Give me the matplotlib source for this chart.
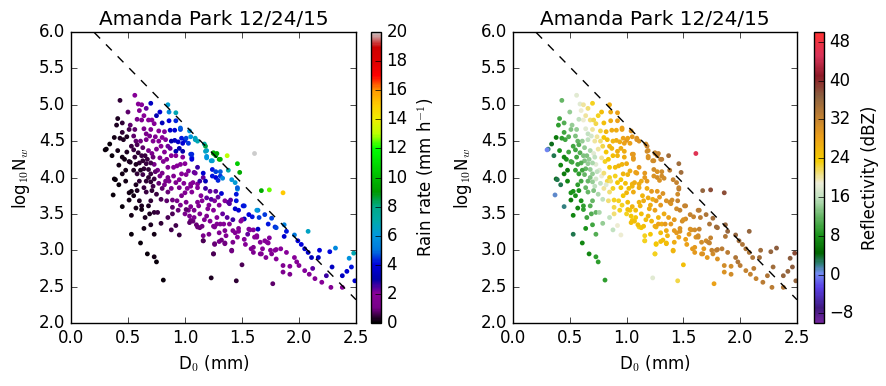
import numpy as np
import matplotlib
matplotlib.use('Agg')
import matplotlib.pyplot as plt
from matplotlib.colors import LinearSegmentedColormap

plt.style.use('classic')

title = 'Amanda Park 12/24/15'

# median drop diameter D0 (mm)
d0 = [0.43, 0.56, 0.59, 0.62, 0.60, 0.70, 0.85, 0.86, 0.92, 0.41,
      0.45, 0.40, 0.52, 0.62, 0.68, 0.71, 0.75, 0.73, 0.86, 0.92,
      0.51, 0.56, 0.64, 0.70, 0.77, 0.82, 0.87, 0.91, 0.96, 1.04,
      1.09, 1.11, 1.17, 1.19, 1.25, 1.27, 1.30, 1.19, 1.24, 0.49,
      0.46, 0.43, 0.34, 0.31, 0.41, 0.49, 0.53, 0.57, 0.61, 0.66,
      0.72, 0.77, 0.79, 0.85, 0.91, 0.94, 1.00, 0.98, 0.92, 0.92,
      1.05, 1.06, 1.00, 0.59, 0.62, 0.68, 0.71, 0.75, 0.42, 0.51,
      0.63, 0.66, 0.68, 0.73, 0.78, 0.81, 0.84, 0.85, 0.90, 0.93,
      0.97, 1.03, 1.08, 1.11, 1.16, 1.24, 1.27, 1.31, 0.38, 0.63,
      0.68, 0.73, 0.70, 0.78, 0.85, 0.92, 1.05, 1.11, 0.37, 0.51,
      0.53, 0.51, 0.60, 0.62, 0.62, 0.68, 0.70, 0.75, 0.69, 0.73,
      0.76, 0.53, 0.79, 0.84, 0.89, 0.89, 0.89, 0.94, 0.79, 0.53,
      0.73, 0.61, 0.67, 0.73, 0.75, 0.81, 0.92, 0.95, 1.00, 1.06,
      1.01, 1.03, 1.08, 1.05, 1.11, 1.16, 1.25, 1.23, 1.26, 1.30,
      1.11, 1.15, 1.20, 1.25, 1.26, 1.29, 1.26, 1.31, 1.67, 1.74,
      1.86, 1.46, 1.45, 1.38, 1.44, 1.47, 1.52, 1.64, 1.59, 1.65,
      1.70, 1.76, 1.52, 1.49, 1.73, 1.79, 1.87, 1.89, 1.96, 2.08,
      1.87, 1.99, 2.02, 2.05, 2.08, 2.11, 2.17, 2.18, 2.27, 2.32,
      2.44, 2.48, 2.46, 2.42, 2.38, 2.29, 2.49, 1.35, 1.42, 1.47,
      1.57, 1.61, 1.63, 1.70, 1.73, 1.79, 1.84, 1.89, 1.96, 1.98,
      2.00, 1.86, 1.86, 1.92, 2.09, 2.14, 2.20, 2.28, 2.38, 1.60,
      1.66, 1.76, 1.41, 1.50, 1.77, 1.45, 1.35, 1.01, 1.05, 1.12,
      1.21, 1.30, 1.39, 1.51, 1.56, 1.63, 1.80, 1.04, 1.07, 1.13,
      1.10, 1.15, 1.19, 1.25, 1.28, 1.34, 1.39, 1.44, 1.47, 1.50,
      1.56, 1.60, 1.64, 1.63, 1.66, 1.72, 1.74, 1.80, 1.75, 1.67,
      1.60, 1.58, 1.16, 1.26, 1.32, 1.35, 1.42, 1.41, 1.25, 0.96,
      0.97, 1.01, 1.05, 1.09, 1.03, 1.18, 1.18, 1.19, 1.25, 1.28,
      1.31, 1.37, 1.23, 1.46, 1.48, 1.61, 1.38, 1.31, 1.27, 1.16,
      1.24, 1.29, 1.33, 1.41, 1.44, 1.46, 1.45, 1.32, 1.06, 1.06,
      0.98, 0.96, 1.01, 1.09, 1.07, 1.05, 1.11, 1.18, 1.22, 1.27,
      1.35, 1.40, 0.52, 0.39, 0.55, 0.58, 0.60, 0.57, 0.64, 0.66,
      0.55, 0.58, 0.48, 0.45, 0.47, 0.55, 0.58, 0.63, 0.66, 0.69,
      0.74, 0.80, 0.83, 0.87, 0.82, 0.88, 0.76, 0.80, 0.83, 0.88,
      0.95, 0.97, 0.93, 0.80, 0.72, 0.85, 0.30,
      0.65, 0.67, 0.70, 0.72, 0.60, 0.64, 0.70, 0.74, 0.66, 0.71,
      0.77, 0.82, 0.86, 0.90, 0.95, 0.99, 1.02, 0.96, 1.00, 1.04,
      1.08, 1.13, 1.17, 1.22, 1.14, 1.19, 1.23, 1.18, 1.13, 1.16,
      1.21, 1.30, 1.36, 1.28, 1.33, 1.37, 1.42, 1.46, 1.52, 1.55,
      1.53, 1.68, 1.71, 1.80, 1.92, 2.05, 2.12, 2.24, 0.98, 0.95,
      0.88, 0.80, 0.78, 0.66, 0.64, 0.58, 0.50, 0.55, 0.45, 0.38,
      0.36, 0.45, 0.56, 0.57, 0.61, 0.48, 0.42, 0.45, 0.57, 0.65,
      0.70, 0.64, 0.85, 0.88]

# log10 Nw
log_nw = [5.06, 5.13, 5.01, 5.00, 4.92, 5.02, 5.00, 4.90, 4.89, 4.81,
          4.75, 4.72, 4.72, 4.79, 4.79, 4.79, 4.85, 4.74, 4.78, 4.78,
          4.66, 4.66, 4.67, 4.66, 4.64, 4.63, 4.65, 4.65, 4.66, 4.64,
          4.52, 4.50, 4.46, 4.37, 4.33, 4.30, 4.25, 4.27, 4.23, 4.56,
          4.52, 4.54, 4.46, 4.39, 4.37, 4.35, 4.43, 4.50, 4.50, 4.52,
          4.50, 4.50, 4.43, 4.43, 4.51, 4.49, 4.51, 4.47, 4.36, 4.30,
          4.32, 4.27, 4.19, 4.34, 4.30, 4.37, 4.33, 4.39, 4.17, 4.22,
          4.23, 4.19, 4.11, 4.18, 4.27, 4.22, 4.25, 4.14, 4.14, 4.16,
          4.05, 4.09, 4.07, 4.14, 4.00, 4.11, 4.00, 4.02, 3.98, 4.04,
          4.00, 3.98, 3.94, 4.02, 4.00, 3.93, 3.91, 3.91, 3.76, 3.79,
          3.81, 3.69, 3.68, 3.61, 3.56, 3.61, 3.68, 3.77, 3.50, 3.52,
          3.52, 3.48, 3.70, 3.68, 3.69, 3.59, 3.50, 3.55, 3.37, 3.22,
          3.22, 3.10, 2.95, 2.91, 2.84, 2.59, 3.34, 3.21, 3.79, 3.80,
          3.66, 3.55, 3.55, 3.41, 3.32, 3.13, 2.95, 2.62, 3.08, 3.12,
          3.66, 3.68, 3.57, 3.55, 3.68, 3.73, 3.32, 3.36, 3.82, 3.83,
          3.79, 3.84, 3.68, 3.66, 3.57, 3.55, 3.61, 3.55, 3.46, 3.45,
          3.49, 3.44, 3.43, 3.40, 3.36, 3.32, 3.35, 3.26, 3.21, 3.26,
          3.19, 3.13, 3.08, 3.02, 2.97, 2.90, 2.90, 3.00, 2.98, 3.03,
          2.89, 2.96, 2.77, 2.71, 2.65, 2.77, 2.58, 3.27, 3.27, 3.30,
          3.28, 3.18, 3.18, 3.13, 3.10, 3.00, 3.02, 2.97, 2.90, 2.84,
          2.79, 2.79, 2.70, 2.67, 2.67, 2.61, 2.56, 2.49, 2.49, 3.04,
          2.95, 2.95, 3.00, 2.80, 2.54, 2.58, 3.09, 3.56, 3.60, 3.61,
          3.62, 3.62, 3.64, 3.61, 3.49, 3.55, 3.31, 3.38, 3.40, 3.31,
          3.35, 3.33, 3.47, 3.33, 3.36, 3.36, 3.36, 3.24, 3.26, 3.42,
          3.29, 3.28, 3.29, 3.20, 3.11, 3.11, 3.17, 3.01, 3.00, 2.95,
          2.97, 3.02, 3.13, 3.09, 3.14, 3.10, 3.11, 2.99, 2.95, 4.68,
          4.54, 4.54, 4.56, 4.54, 4.47, 4.43, 4.36, 4.29, 4.34, 4.33,
          4.25, 4.30, 4.23, 4.19, 4.07, 4.33, 4.10, 4.08, 4.08, 4.06,
          4.02, 3.96, 3.99, 3.97, 3.93, 3.86, 3.77, 3.78, 4.32, 4.25,
          4.28, 4.18, 4.04, 4.06, 3.93, 3.88, 3.86, 3.95, 3.81, 3.81,
          3.68, 3.69, 4.21, 3.97, 4.10, 4.05, 3.95, 3.90, 3.86, 3.80,
          3.75, 3.82, 3.95, 4.05, 4.25, 4.38, 4.45, 4.41, 4.60, 4.57,
          4.56, 4.55, 4.52, 4.40, 4.35, 4.30, 4.10, 4.06, 3.95, 3.85,
          3.86, 3.75, 3.68, 3.85, 3.88, 3.80, 4.38,
          4.30, 4.25, 4.20, 4.28, 4.20, 4.12, 4.05, 4.08, 3.95, 3.82,
          3.92, 3.90, 3.95, 4.02, 3.97, 3.92, 3.85, 3.62, 3.50, 3.47,
          3.45, 3.50, 3.42, 3.40, 3.75, 3.72, 3.70, 3.85, 3.95, 3.20,
          3.22, 3.24, 3.20, 3.45, 3.50, 3.45, 3.42, 3.18, 3.15, 3.22,
          3.08, 3.02, 2.90, 2.88, 2.78, 2.72, 2.75, 2.65, 4.36, 4.40,
          4.50, 4.75, 4.90, 4.95, 4.85, 4.80, 4.90, 4.57, 4.62, 4.55,
          4.30, 4.28, 4.28, 4.18, 4.10, 4.10, 3.90, 3.60, 3.58, 3.45,
          3.35, 3.30, 3.45, 3.28]

# rain rate (mm/h)
rain_rate = [0.4, 1.8, 1.8, 1.9, 1.7, 3.5, 6.3, 5.5, 6.8, 0.3,
             0.4, 0.3, 0.8, 1.6, 1.9, 2.0, 3.2, 1.9, 4.0, 4.3,
             0.6, 0.8, 1.4, 1.7, 2.0, 2.1, 3.6, 3.8, 4.5, 6.0,
             6.5, 6.8, 7.2, 6.5, 9.0, 8.8, 9.5, 6.0, 6.3, 0.3,
             0.3, 0.3, 0.1, 0.1, 0.2, 0.3, 0.5, 0.8, 1.0, 1.3,
             1.6, 1.8, 1.8, 2.2, 3.5, 3.6, 4.2, 3.8, 3.2, 2.0,
             4.5, 4.3, 2.0, 0.4, 0.5, 1.1, 1.3, 1.5, 0.2, 0.3,
             0.4, 0.5, 0.4, 1.1, 1.5, 1.6, 1.8, 1.6, 1.8, 2.0,
             1.8, 2.1, 2.3, 2.6, 2.3, 4.2, 4.0, 4.5, 0.1, 0.6,
             0.4, 0.5, 0.4, 1.1, 1.3, 1.4, 1.8, 2.0, 0.1, 0.2,
             0.2, 0.2, 0.3, 0.3, 0.2, 0.3, 0.4, 0.5, 0.3, 0.4,
             0.5, 0.2, 0.7, 0.8, 1.0, 0.8, 0.7, 0.9, 0.4, 0.1,
             0.2, 0.1, 0.1, 0.2, 0.1, 0.1, 0.6, 0.5, 1.6, 1.8,
             1.4, 1.3, 1.4, 1.0, 0.9, 0.7, 0.7, 0.3, 1.0, 1.3,
             1.7, 1.8, 1.8, 1.9, 2.1, 2.3, 1.4, 1.6, 9.5, 12.5,
             15.0, 5.5, 4.2, 2.4, 3.7, 3.8, 4.3, 5.2, 4.2, 4.5,
             4.5, 4.6, 3.4, 2.0, 4.2, 4.3, 5.3, 4.2, 5.0, 6.5,
             3.7, 4.0, 4.0, 3.8, 3.6, 3.3, 3.5, 4.0, 4.1, 5.5,
             5.8, 6.8, 4.2, 3.8, 3.5, 3.5, 3.8, 1.5, 1.6, 1.7,
             1.9, 1.8, 1.8, 1.9, 1.8, 1.8, 2.0, 2.0, 2.0, 1.8,
             1.8, 1.5, 1.4, 1.4, 1.7, 1.8, 1.8, 1.7, 1.9, 1.4,
             1.4, 1.6, 0.8, 0.7, 0.8, 0.4, 1.0, 0.8, 1.4, 1.6,
             1.8, 2.0, 2.4, 4.2, 4.0, 6.0, 4.6, 0.8, 0.9, 0.9,
             0.9, 1.0, 1.5, 1.5, 1.6, 1.8, 1.8, 1.7, 1.8, 2.1,
             2.1, 2.1, 3.5, 1.9, 1.9, 2.0, 2.1, 2.0, 1.8, 1.6,
             1.4, 1.5, 0.7, 0.9, 1.0, 1.0, 1.3, 1.0, 0.7, 4.8,
             4.2, 4.6, 6.0, 6.6, 4.5, 8.5, 6.5, 6.0, 9.5, 9.3,
             9.8, 13.0, 6.3, 10.5, 9.5, 20.0, 7.0, 4.8, 4.6, 3.8,
             4.2, 4.3, 5.5, 6.0, 6.2, 4.8, 4.2, 3.8, 4.3, 4.0,
             2.1, 1.8, 1.8, 2.2, 1.8, 1.7, 1.8, 3.3, 2.3, 2.4,
             2.1, 2.4, 0.3, 0.1, 0.3, 0.4, 0.4, 0.3, 0.5, 0.5,
             0.2, 0.3, 0.2, 0.2, 0.2, 0.5, 0.7, 0.8, 1.1, 1.3,
             1.6, 2.0, 2.1, 2.3, 1.8, 1.9, 1.1, 1.2, 1.2, 1.3,
             1.4, 1.3, 1.1, 0.8, 0.6, 0.9, 0.1,
             0.5, 0.5, 0.6, 0.9, 0.4, 0.4, 0.5, 0.8, 0.4, 0.4,
             0.9, 1.1, 1.4, 1.6, 1.7, 1.9, 2.0, 1.4, 1.3, 1.4,
             1.5, 1.7, 1.7, 1.8, 2.1, 2.3, 2.4, 2.6, 2.6, 1.2,
             1.3, 1.6, 1.7, 2.0, 2.3, 2.4, 2.6, 2.0, 2.1, 2.3,
             1.9, 2.0, 1.8, 1.9, 2.0, 2.1, 2.4, 2.6, 3.0, 3.1,
             3.0, 3.3, 3.8, 2.3, 2.0, 1.2, 0.8, 0.8, 0.4, 0.2,
             0.1, 0.2, 0.4, 0.3, 0.3, 0.2, 0.1, 0.1, 0.2, 0.3,
             0.3, 0.2, 0.7, 0.6]

# reflectivity (dBZ)
refl = [12, 18, 18, 20, 19, 23, 27, 27, 28, 10,
        11, 9, 14, 19, 21, 22, 23, 22, 27, 28,
        13, 14, 18, 20, 22, 26, 27, 27, 28, 30,
        30, 30, 31, 31, 32, 32, 32, 30, 31, 11,
        10, 9, 4, 2, 8, 10, 10, 12, 14, 16,
        20, 21, 22, 26, 27, 27, 29, 28, 27, 26,
        29, 29, 27, 11, 13, 15, 18, 20, 7, 10,
        13, 14, 14, 18, 20, 23, 24, 24, 25, 26,
        26, 27, 28, 29, 29, 31, 31, 31, 4, 12,
        13, 17, 14, 19, 23, 24, 26, 27, 1, 8,
        8, 6, 8, 9, 9, 11, 12, 15, 11, 12,
        15, 7, 16, 21, 23, 22, 21, 23, 14, 3,
        11, 7, 7, 9, 9, 9, 19, 19, 26, 27,
        25, 24, 25, 24, 23, 22, 22, 18, 24, 25,
        26, 27, 27, 28, 29, 29, 26, 27, 36, 38,
        38, 33, 32, 31, 31, 32, 32, 33, 32, 33,
        34, 35, 31, 31, 34, 35, 36, 36, 36, 36,
        34, 35, 34, 34, 34, 34, 35, 35, 36, 37,
        37, 38, 37, 36, 36, 35, 36, 27, 29, 30,
        30, 30, 31, 31, 32, 32, 33, 33, 34, 34,
        33, 31, 30, 31, 32, 32, 33, 33, 34, 29,
        29, 31, 26, 25, 28, 22, 26, 25, 26, 26,
        27, 29, 30, 32, 32, 33, 35, 25, 25, 24,
        25, 25, 26, 27, 28, 29, 29, 29, 30, 30,
        30, 31, 32, 31, 31, 32, 32, 33, 32, 30,
        29, 29, 23, 24, 25, 25, 27, 26, 23, 28,
        28, 28, 29, 30, 28, 32, 31, 30, 32, 32,
        33, 35, 31, 35, 35, 46, 33, 31, 30, 29,
        30, 30, 31, 32, 32, 32, 31, 30, 29, 29,
        27, 26, 26, 28, 27, 26, 27, 29, 29, 29,
        30, 31, 10, 3, 9, 9, 10, 9, 12, 12,
        8, 8, 7, 6, 8, 10, 11, 14, 16, 17,
        20, 24, 25, 26, 24, 25, 18, 21, 22, 23,
        24, 24, 23, 20, 16, 21, 0,
        13, 14, 15, 16, 11, 12, 14, 16, 12, 13,
        16, 18, 21, 23, 24, 25, 25, 23, 23, 24,
        24, 25, 25, 26, 26, 27, 27, 27, 27, 23,
        24, 25, 26, 26, 27, 28, 29, 28, 28, 29,
        28, 29, 29, 30, 31, 32, 33, 34, 27, 27,
        26, 25, 25, 21, 20, 16, 14, 13, 10, 6,
        3, 7, 10, 10, 10, 6, 3, 2, 7, 10,
        10, 8, 16, 16]

# dashed reference line log10Nw = a + b*D0
line_a = 6.32
line_b = -1.6

refl_cmap = LinearSegmentedColormap.from_list('refl', [
    (0.00, (0.45, 0.15, 0.62)),
    (0.05, (0.25, 0.10, 0.50)),
    (0.12, (0.35, 0.25, 0.90)),
    (0.17, (0.45, 0.55, 0.95)),
    (0.20, (0.20, 0.50, 0.50)),
    (0.24, (0.00, 0.40, 0.00)),
    (0.30, (0.10, 0.58, 0.10)),
    (0.37, (0.42, 0.72, 0.42)),
    (0.43, (0.75, 0.88, 0.75)),
    (0.48, (0.93, 0.93, 0.85)),
    (0.56, (0.96, 0.80, 0.00)),
    (0.64, (0.92, 0.62, 0.10)),
    (0.71, (0.75, 0.50, 0.20)),
    (0.78, (0.55, 0.38, 0.25)),
    (0.85, (0.55, 0.10, 0.15)),
    (0.92, (0.85, 0.20, 0.35)),
    (1.00, (1.00, 0.20, 0.20))])

fig = plt.figure(figsize=(8.86, 3.86), dpi=100, facecolor='white')
ax1 = fig.add_axes([0.0801, 0.1632, 0.3217, 0.7539])
cax1 = fig.add_axes([0.4187, 0.1632, 0.0113, 0.7539])
ax2 = fig.add_axes([0.579, 0.1632, 0.3205, 0.7539])
cax2 = fig.add_axes([0.9187, 0.1632, 0.0113, 0.7539])

xs = np.array([0.0, 2.5])

sc1 = ax1.scatter(d0, log_nw, c=rain_rate, cmap='nipy_spectral', vmin=0, vmax=20,
                  s=12, linewidths=0)
sc2 = ax2.scatter(d0, log_nw, c=refl, cmap=refl_cmap, vmin=-10, vmax=50,
                  s=12, linewidths=0)

for ax in (ax1, ax2):
    ax.plot(xs, line_a + line_b * xs, 'k--', lw=1)
    ax.set_xlim(0, 2.5)
    ax.set_ylim(2.0, 6.0)
    ax.set_xticks(np.arange(0, 2.51, 0.5))
    ax.set_yticks(np.arange(2.0, 6.01, 0.5))
    ax.set_xlabel('D$_0$ (mm)')
    ax.set_ylabel('log$_{10}$N$_w$')
    ax.set_title(title)

cb1 = fig.colorbar(sc1, cax=cax1, ticks=np.arange(0, 21, 2))
cb1.set_label('Rain rate (mm h$^{-1}$)')
cb2 = fig.colorbar(sc2, cax=cax2, ticks=np.arange(-8, 49, 8))
cb2.set_label('Reflectivity (dBZ)')

fig.savefig('out.png', dpi=100, facecolor='white')
